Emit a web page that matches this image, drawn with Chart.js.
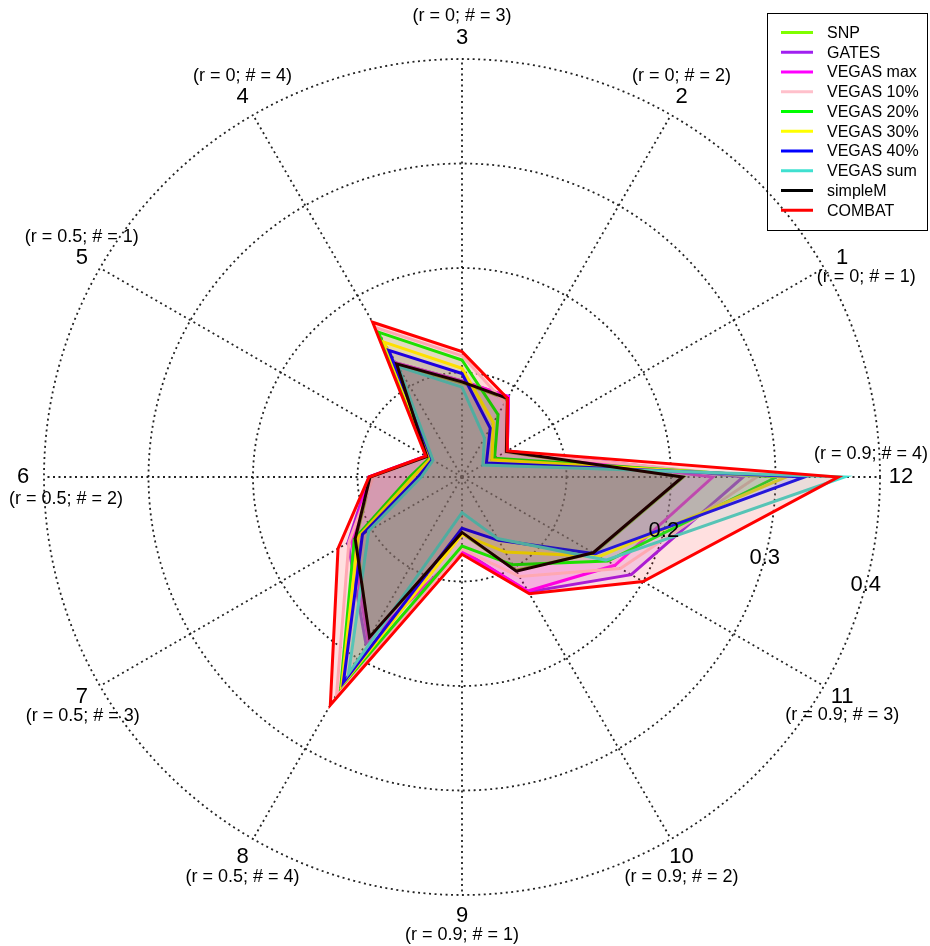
<!DOCTYPE html>
<html>
<head>
<meta charset="utf-8">
<title>Radar</title>
<script src="https://cdn.jsdelivr.net/npm/chart.js@4.4.0/dist/chart.umd.min.js"></script>
<style>
  html, body { margin: 0; padding: 0; background: #fff; overflow: hidden; }
  canvas { display: block; }
</style>
</head>
<body>
<canvas id="radarChart" width="930" height="946"></canvas>
<script>
// scenario axes, numbered as in the figure (1..12)
const categories = ['1', '2', '3', '4', '5', '6', '7', '8', '9', '10', '11', '12'];
const subLabels = [
    '(r = 0; # = 1)', '(r = 0; # = 2)', '(r = 0; # = 3)', '(r = 0; # = 4)',
    '(r = 0.5; # = 1)', '(r = 0.5; # = 2)', '(r = 0.5; # = 3)', '(r = 0.5; # = 4)',
    '(r = 0.9; # = 1)', '(r = 0.9; # = 2)', '(r = 0.9; # = 3)', '(r = 0.9; # = 4)'
];
const tickLabels = [0.2, 0.3, 0.4];

// values per axis 1..12
const snp      = [0.048, 0.086, 0.090, 0.124, 0.039, 0.087, 0.117, 0.178, 0.054, 0.103, 0.146, 0.212];
const gates    = [0.050, 0.089, 0.092, 0.126, 0.040, 0.089, 0.126, 0.184, 0.070, 0.127, 0.187, 0.269];
const vegasMax = [0.050, 0.089, 0.092, 0.126, 0.040, 0.089, 0.122, 0.180, 0.071, 0.126, 0.169, 0.240];
const vegas10  = [0.048, 0.082, 0.116, 0.165, 0.039, 0.085, 0.125, 0.240, 0.069, 0.110, 0.175, 0.282];
const vegas20  = [0.036, 0.069, 0.112, 0.160, 0.036, 0.050, 0.119, 0.232, 0.066, 0.097, 0.161, 0.301];
const vegas30  = [0.033, 0.060, 0.104, 0.149, 0.035, 0.047, 0.115, 0.230, 0.055, 0.083, 0.152, 0.310];
const vegas40  = [0.027, 0.054, 0.099, 0.140, 0.033, 0.042, 0.110, 0.227, 0.049, 0.070, 0.147, 0.328];
const vegasSum = [0.023, 0.043, 0.086, 0.122, 0.032, 0.039, 0.103, 0.217, 0.034, 0.068, 0.159, 0.366];
const simpleM  = [0.049, 0.087, 0.091, 0.125, 0.039, 0.088, 0.118, 0.177, 0.053, 0.104, 0.145, 0.211];
const combat   = [0.050, 0.087, 0.120, 0.171, 0.040, 0.089, 0.137, 0.252, 0.074, 0.129, 0.200, 0.360];

const seriesNames  = ['SNP', 'GATES', 'VEGAS max', 'VEGAS 10%', 'VEGAS 20%', 'VEGAS 30%', 'VEGAS 40%', 'VEGAS sum', 'simpleM', 'COMBAT'];
const seriesData   = [snp, gates, vegasMax, vegas10, vegas20, vegas30, vegas40, vegasSum, simpleM, combat];
const seriesColors = ['#7FFF00', '#A020F0', '#FF00FF', '#FFC0CB', '#00FF00', '#FFFF00', '#0000FF', '#40E0D0', '#000000', '#FF0000'];

// chart.js goes clockwise from the top; the figure has 12 at 3 o'clock going counter-clockwise
const order = [3, 2, 1, 12, 11, 10, 9, 8, 7, 6, 5, 4];

const FONT = '"Liberation Sans", Arial, sans-serif';

function rgba(hex, a) {
    const n = parseInt(hex.slice(1), 16);
    return `rgba(${(n >> 16) & 255}, ${(n >> 8) & 255}, ${n & 255}, ${a})`;
}

// where the sub label sits relative to the axis number
const subOffset = {
    1: [24, 20], 2: [0, -21], 3: [0, -22], 4: [0, -21], 5: [0, -20], 6: [43, 22],
    7: [1, 20], 8: [0, 20], 9: [0, 19], 10: [0, 20], 11: [0, 19], 12: [-30, -23]
};

const labelsPlugin = {
    id: 'radarText',
    afterDraw(chart) {
        const ctx = chart.ctx;
        const scale = chart.scales.r;
        ctx.save();
        ctx.fillStyle = '#000';
        ctx.textAlign = 'center';
        ctx.textBaseline = 'middle';

        // axis numbers + scenario descriptions
        order.forEach((cat, idx) => {
            const p = scale.getPointPosition(idx, scale.drawingArea + 21);
            ctx.font = '22px ' + FONT;
            ctx.fillText(categories[cat - 1], p.x, p.y);
            const off = subOffset[cat];
            ctx.font = '18px ' + FONT;
            ctx.fillText(subLabels[cat - 1], p.x + off[0], p.y + off[1]);
        });

        // ring values, along a ray 15 degrees below axis 12
        ctx.font = '22px ' + FONT;
        const a = 15 * Math.PI / 180;
        tickLabels.forEach(v => {
            const d = scale.getDistanceFromCenterForValue(v);
            ctx.fillText(v.toFixed(1), scale.xCenter + d * Math.cos(a), scale.yCenter + d * Math.sin(a));
        });

        // legend box
        const bx = 767.5, by = 13.5, bw = 160, bh = 217;
        ctx.strokeStyle = '#000';
        ctx.lineWidth = 1;
        ctx.strokeRect(bx, by, bw, bh);
        ctx.textAlign = 'left';
        ctx.font = '16px ' + FONT;
        seriesNames.forEach((name, i) => {
            const y = 32.5 + i * 19.75;
            ctx.strokeStyle = seriesColors[i];
            ctx.lineWidth = 3;
            ctx.beginPath();
            ctx.moveTo(781, y);
            ctx.lineTo(813, y);
            ctx.stroke();
            ctx.fillStyle = '#000';
            ctx.fillText(name, 827, y + 1);
        });
        ctx.restore();
    }
};

const ctx = document.getElementById('radarChart').getContext('2d');
new Chart(ctx, {
    type: 'radar',
    data: {
        labels: order.map(c => categories[c - 1]),
        datasets: seriesNames.map((name, i) => ({
            label: name,
            data: order.map(c => seriesData[i][c - 1]),
            borderColor: seriesColors[i],
            backgroundColor: rgba(seriesColors[i], 0.12),
            borderWidth: 3,
            fill: true,
            order: -i
        }))
    },
    options: {
        responsive: false,
        animation: false,
        devicePixelRatio: 1,
        layout: { padding: { left: 44, right: 49, top: 59, bottom: 51 } },
        plugins: {
            legend: { display: false },
            tooltip: { enabled: false }
        },
        elements: {
            line: { tension: 0 },
            point: { radius: 0, hoverRadius: 0 }
        },
        scales: {
            r: {
                min: 0,
                max: 0.4,
                ticks: { display: false, stepSize: 0.1 },
                grid: { color: '#222', lineWidth: 1.8, circular: true },
                border: { dash: [2, 3.5] },
                angleLines: { color: '#222', lineWidth: 1.8, borderDash: [2, 3.5] },
                pointLabels: { display: false }
            }
        }
    },
    plugins: [labelsPlugin]
});
</script>
</body>
</html>
